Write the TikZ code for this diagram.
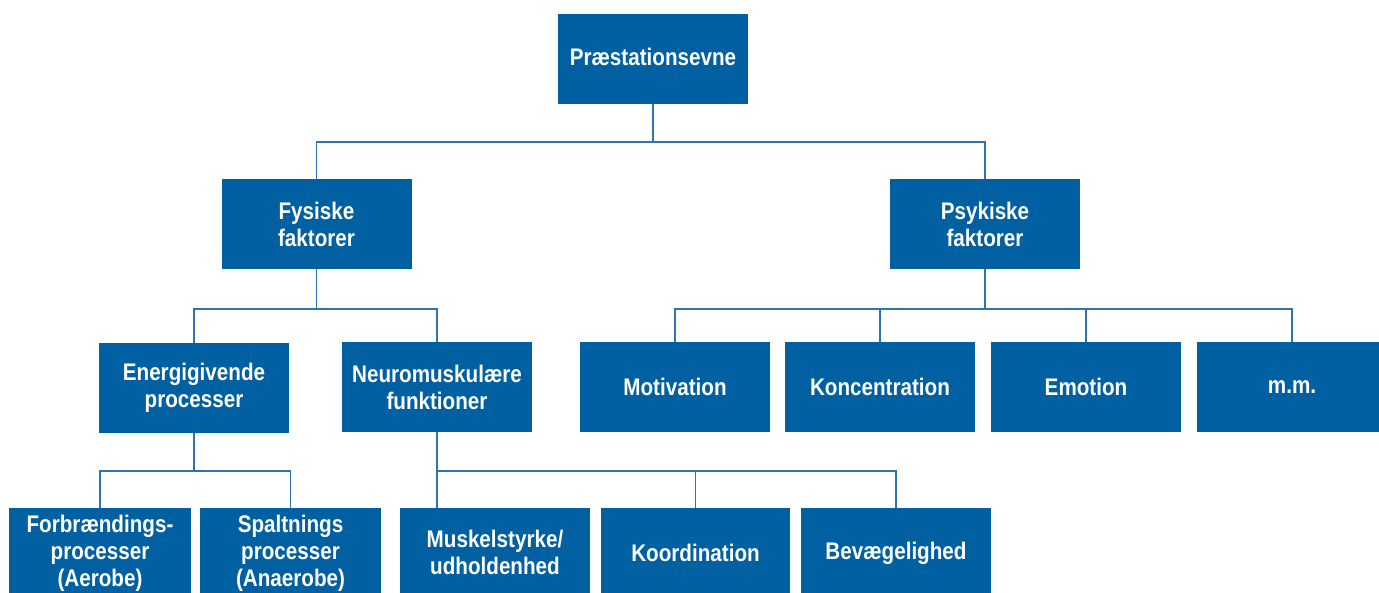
\documentclass[tikz,border=0pt]{standalone}
\usepackage{fontspec}
\setmainfont[FakeStretch=0.86]{Liberation Sans}
\definecolor{boxblue}{HTML}{0060A2}
\definecolor{lineblue}{HTML}{2F74B0}
\begin{document}
\begin{tikzpicture}[x=1pt,y=-1pt,
  box/.style={fill=boxblue,text=white,draw=none,inner sep=0pt,align=center,
    minimum width=190pt,minimum height=90pt,
    font=\fontsize{24}{27}\selectfont\bfseries},
  conn/.style={draw=lineblue,line width=1.6pt}]
\useasboundingbox (0,0) rectangle (1379,592);
\clip (0,0) rectangle (1379,592);
% bus levels
\coordinate (y1) at (0,142);
\coordinate (y2) at (0,309);
\coordinate (y3) at (0,471);
% nodes
\node[box] (p) at (653,59) {\raisebox{4pt}{Præstationsevne}};
\node[box] (fys) at (316.5,224) {Fysiske\\faktorer};
\node[box] (psy) at (985,224) {Psykiske\\faktorer};
\node[box] (ene) at (194,388) {Energigivende\\processer};
\node[box] (neu) at (437,387) {Neuromuskulære\\funktioner};
\node[box] (mot) at (675,387) {Motivation};
\node[box] (kon) at (880,387) {Koncentration};
\node[box] (emo) at (1086,387) {Emotion};
\node[box] (mm) at (1292,387) {m.m.};
\node[box,minimum width=182pt] (forb) at (100,553) {Forbrændings-\\processer\\(Aerobe)};
\node[box,minimum width=181pt] (spal) at (290.5,553) {Spaltnings\\processer\\(Anaerobe)};
\node[box] (musk) at (495,553) {\raisebox{2pt}{Muskelstyrke/}\\\raisebox{2pt}{udholdenhed}};
\node[box,minimum width=189pt] (koor) at (695.5,553) {Koordination};
\node[box] (bev) at (896,553) {Bevægelighed};
% connectors
\draw[conn] (p.south) -- (p.south |- y1);
\draw[conn] (fys.north) -- (fys.north |- y1) -- (psy.north |- y1) -- (psy.north);
\draw[conn] (fys.south) -- (fys.south |- y2);
\draw[conn] (ene.north) -- (ene.north |- y2) -- (neu.north |- y2) -- (neu.north);
\draw[conn] (psy.south) -- (psy.south |- y2);
\draw[conn] (mot.north) -- (mot.north |- y2) -- (mm.north |- y2) -- (mm.north);
\draw[conn] (kon.north) -- (kon.north |- y2);
\draw[conn] (emo.north) -- (emo.north |- y2);
\draw[conn] (ene.south) -- (ene.south |- y3);
\draw[conn] (forb.north) -- (forb.north |- y3) -- (spal.north |- y3) -- (spal.north);
\draw[conn] (neu.south) -- (neu.south |- musk.north);
\draw[conn] (neu.south |- y3) -- (bev.north |- y3) -- (bev.north);
\draw[conn] (koor.north) -- (koor.north |- y3);
\end{tikzpicture}
\end{document}
